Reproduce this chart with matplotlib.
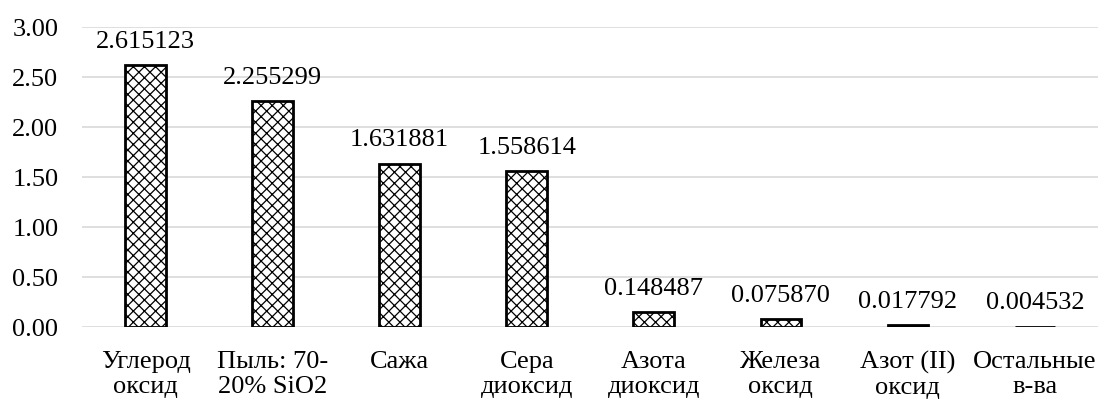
import matplotlib
matplotlib.use("Agg")
import matplotlib.pyplot as plt

categories = ["Углерод\nоксид", "Пыль: 70-\n20% SiO2", "Сажа", "Сера\nдиоксид",
              "Азота\nдиоксид", "Железа\nоксид", "Азот (II)\nоксид", "Остальные\nв-ва"]
values = [2.615123, 2.255299, 1.631881, 1.558614, 0.148487, 0.075870, 0.017792, 0.004532]
yticks = [0.0, 0.5, 1.0, 1.5, 2.0, 2.5, 3.0]

plt.rcParams["font.family"] = ["Liberation Serif", "DejaVu Serif"]
plt.rcParams["hatch.linewidth"] = 0.9

fig = plt.figure(figsize=(11.04, 4.0), dpi=100)
ax = fig.add_axes([0.0743, 0.1825, 0.9207, 0.75])
x = range(len(categories))
bars = ax.bar(x, values, width=0.32, facecolor="white", edgecolor="black",
              linewidth=2, hatch="xxx", zorder=3)
for b, v in zip(bars, values):
    ax.annotate(f"{v:.6f}", (b.get_x() + b.get_width() / 2, v), xytext=(0, 9),
                textcoords="offset points", ha="center", va="bottom", fontsize=19)

ax.set_ylim(0, 3.0)
ax.set_xlim(-0.5, len(categories) - 0.5)
ax.set_yticks(yticks)
ax.set_yticklabels([f"{t:.2f}" for t in yticks], fontsize=19)
ax.set_xticks(list(x))
ax.set_xticklabels(categories, fontsize=19, linespacing=1.2)
ax.tick_params(length=0)
ax.tick_params(axis="x", pad=17)
ax.tick_params(axis="y", pad=17)
ax.grid(axis="y", color="#d9d9d9", linewidth=1.2, zorder=0)
for s in ax.spines.values():
    s.set_visible(False)

fig.savefig("out.png", dpi=100)
